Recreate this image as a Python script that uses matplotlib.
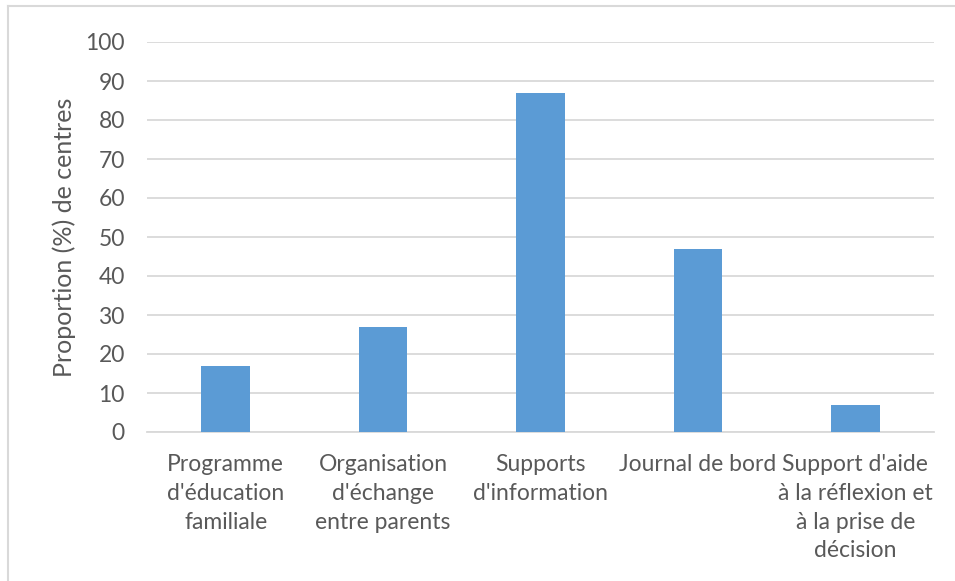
import matplotlib
matplotlib.use("Agg")
import matplotlib.pyplot as plt
from matplotlib.lines import Line2D

plt.rcParams['font.family'] = ['Lato', 'DejaVu Sans']

categories = ["Programme\nd'éducation\nfamiliale",
              "Organisation\nd'échange\nentre parents",
              "Supports\nd'information",
              "Journal de bord",
              "Support d'aide\nà la réflexion et\nà la prise de\ndécision"]
values = [17, 27, 87, 47, 7]
yticks = list(range(0, 101, 10))

text_col = '#595959'
bar_col = '#5B9BD5'

fig = plt.figure(figsize=(9.55, 5.81), dpi=100)
ax = fig.add_axes([147/955, 1 - 432/581, (934 - 147)/955, (432 - 42)/581])

x = range(len(values))
ax.bar(x, values, width=0.31, color=bar_col, zorder=3)

ax.set_xlim(-0.5, len(values) - 0.5)
ax.set_ylim(0, 100)
ax.set_yticks(yticks)
ax.set_xticks(list(x))
ax.set_xticklabels(categories, linespacing=1.45)
ax.grid(axis='y', color='#d9d9d9', linewidth=1.3, zorder=0)
for s in ['top', 'right', 'left']:
    ax.spines[s].set_visible(False)
ax.spines['bottom'].set_color('#d9d9d9')
ax.spines['bottom'].set_linewidth(1.3)
ax.tick_params(axis='both', length=0, labelsize=16.5, labelcolor=text_col)
ax.tick_params(axis='y', pad=16)
ax.tick_params(axis='x', pad=16)
ax.set_ylabel("Proportion (%) de centres", fontsize=18, color=text_col, labelpad=7)

# chart frame (top and left only, as in the source)
fig.add_artist(Line2D([8/955, 1], [1 - 6/581, 1 - 6/581], color='#d9d9d9', lw=1.5))
fig.add_artist(Line2D([8/955, 8/955], [0, 1 - 6/581], color='#d9d9d9', lw=1.5))

fig.savefig("out.png", dpi=100)
